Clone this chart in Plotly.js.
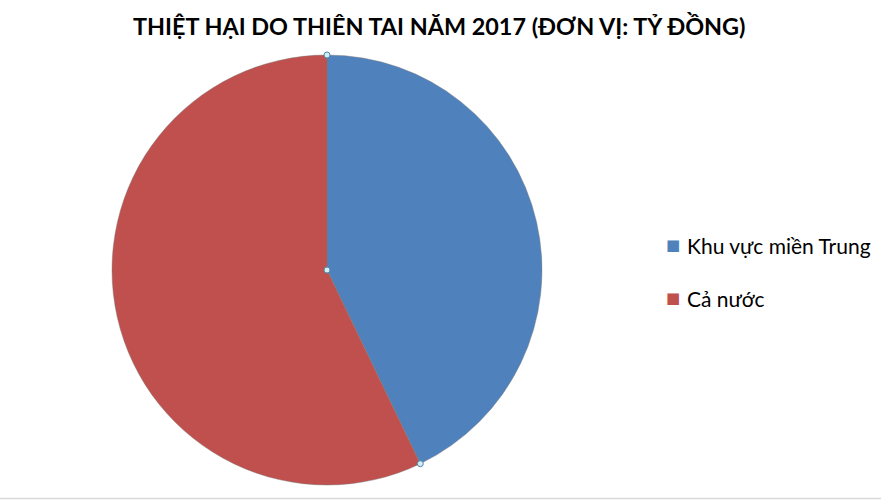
<!DOCTYPE html>
<html><head><meta charset="utf-8">
<script src="https://cdn.plot.ly/plotly-3.0.1.min.js"></script>
<style>html,body{margin:0;padding:0;background:#fff}#chart{width:881px;height:500px}</style>
</head><body><div id="chart"></div>
<script>
var categories = ["Khu vực miền Trung", "Cả nước"];
var values = [45000, 60000];
var colors = ["#4F81BD", "#C0504D"];
var chartTitle = "THIỆT HẠI DO THIÊN TAI NĂM 2017 (ĐƠN VỊ: TỶ ĐỒNG)";

var W = 881, H = 500;
var dom = {x: [112/881, 542/881], y: [15/500, 445/500]};

var trace = {
  type: "pie",
  labels: categories,
  values: values,
  sort: false,
  direction: "clockwise",
  rotation: 0,
  textinfo: "none",
  hoverinfo: "label+value",
  marker: {colors: colors, line: {color: "rgba(120,120,120,0.55)", width: 0.8}},
  domain: dom,
  showlegend: false
};

// legend drawn as annotations, built from categories/colors
var annotations = [{
  text: "<b>" + chartTitle + "</b>", xref: "paper", yref: "paper",
  x: 439/881, y: 1 - 26/500, xanchor: "center", yanchor: "middle", showarrow: false,
  font: {family: "Lato, 'Open Sans', sans-serif", size: 23.4, color: "#000"}
}];
var legY = [245, 298];
categories.forEach(function(c, i){
  annotations.push({text: "■", xref: "paper", yref: "paper", x: 673/881, y: 1 - legY[i]/H,
    xanchor: "center", yanchor: "middle", showarrow: false,
    font: {family: "DejaVu Sans", size: 15, color: colors[i]}});
  annotations.push({text: c, xref: "paper", yref: "paper", x: 685/881, y: 1 - legY[i]/H,
    xanchor: "left", yanchor: "middle", showarrow: false,
    font: {family: "Lato, 'Open Sans', sans-serif", size: 21, color: "#000"}});
});

// selection handles (Excel-like) derived from pie geometry
var cx = (dom.x[0]+dom.x[1])/2*W, cy = H - (dom.y[0]+dom.y[1])/2*H, R = (dom.x[1]-dom.x[0])*W/2;
var total = values.reduce(function(a,b){return a+b;},0);
var ang = values[0]/total*2*Math.PI;
var pts = [[cx, cy-R],[cx, cy],[cx+R*Math.sin(ang), cy-R*Math.cos(ang)]];
var shapes = pts.map(function(p){
  return {type:"circle", xref:"paper", yref:"paper",
    x0:(p[0]-3)/W, x1:(p[0]+3)/W, y0:1-(p[1]+3)/H, y1:1-(p[1]-3)/H,
    fillcolor:"#D6ECF5", line:{color:"#4A8AA8", width:1}};
});
shapes.push({type:"line", xref:"paper", yref:"paper", x0:0, x1:1, y0:1-498.5/H, y1:1-498.5/H,
  line:{color:"#D9D9D9", width:1.5}});

var layout = {
  width: W, height: H,
  margin: {l:0, r:0, t:0, b:0},
  paper_bgcolor: "#fff",
  showlegend: false,
  annotations: annotations,
  shapes: shapes
};
Plotly.newPlot("chart", [trace], layout, {displayModeBar: false, staticPlot: true});
</script></body></html>
